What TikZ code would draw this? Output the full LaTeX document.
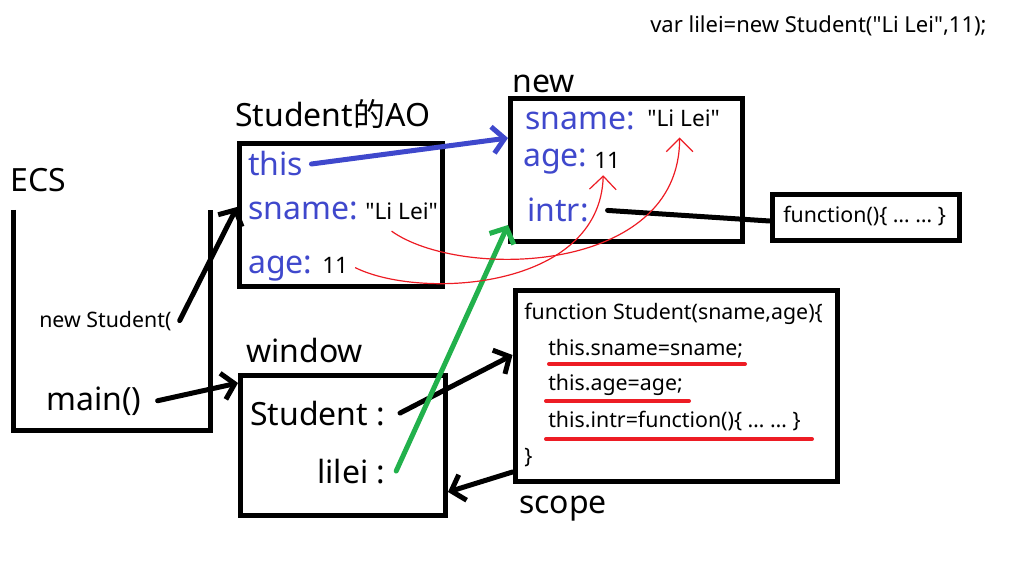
\documentclass[tikz,border=0pt]{standalone}
\usepackage{fontspec}
\setmainfont{Noto Sans}[Ligatures=TeXOff]
\newfontfamily\cjk{Noto Sans CJK SC}
\usetikzlibrary{arrows.meta,fit}
\definecolor{pblue}{HTML}{3F48CC}
\definecolor{pgreen}{HTML}{22B14C}
\definecolor{pred}{HTML}{ED1C24}
\begin{document}
\begin{tikzpicture}[x=0.75pt,y=-0.75pt,
 big/.style={font=\fontsize{24}{28}\selectfont, inner sep=0pt, anchor=base west},
 mid/.style={font=\fontsize{16}{19}\selectfont, inner sep=0pt, anchor=base west},
 val/.style={font=\fontsize{17}{20}\selectfont, inner sep=0pt, anchor=base west},
 key/.style={big, text=pblue},
 frame/.style={draw, line width=3.75pt, inner sep=0pt},
 conn/.style={line width=3.75pt, line cap=round, -{Straight Barb[length=9pt,width=20pt]}},
 redc/.style={draw=pred, line width=0.9pt, -{Straight Barb[length=10pt,width=20pt]}},
 uline/.style={draw=pred, line width=3pt, line cap=round}
]
\useasboundingbox (0,0) rectangle (1018,574);

% ECS
\node[big] (ecs) at (10,192) {ECS};
\draw[line width=3.75pt] (13,210) -- (13,430) -- (210,430) -- (210,210);
\node[mid] (newst) at (39,327) {new Student(};
\node[big] (mainf) at (46,410) {main()};

% Student AO
\node[big] (aolbl) at (235,127) {Student{\cjk 的}AO};
\node[frame, fit={(239.5,143.5) (442,286)}] (ao) {};
\node[key] (this) at (248,176) {this};
\node[key] (aosn) at (248,220) {sname:};
\node[val] (aoli) at (365,220) {"Li Lei"};
\node[key] (aoage) at (248,273) {age:};
\node[val] (ao11) at (322,273) {11};

% new object
\node[big] (newlbl) at (512,93) {new};
\node[frame, fit={(510.5,99) (742.5,242)}] (newo) {};
\node[key] (nsn) at (525,130) {sname:};
\node[val] (nli) at (647,127) {"Li Lei"};
\node[key] (nage) at (523,167) {age:};
\node[val] (n11) at (594,169) {11};
\node[key] (intr) at (527,222) {intr:};
\node[frame, fit={(772,194.5) (959,241)}] (fbox) {};
\node[mid] (ftext) at (783,223) {function()\{ … … \}};

% window
\node[big] (winlbl) at (246,362) {window};
\node[frame, fit={(240.5,375) (445.5,515.5)}] (win) {};
\node[big] (wst) at (250,425) {Student :};
\node[big] (wli) at (317,483) {lilei :};

% function
\node[frame, fit={(515,290.5) (837,481)}] (fn) {};
\node[mid] (f0) at (524,319) {function Student(sname,age)\{};
\node[mid] (f1) at (548,355) {this.sname=sname;};
\node[mid] (f2) at (548,390) {this.age=age;};
\node[mid] (f3) at (548,427) {this.intr=function()\{ … … \}};
\node[mid] (f4) at (524,463) {\}};
\node[big] (scopelbl) at (519,513) {scope};
\draw[uline] (549,364) -- (745,364);
\draw[uline] (546,401) -- (689,401);
\draw[uline] (546,439) -- (812,439);

\node[mid, font=\fontsize{16.5}{19}\selectfont] (top) at (650,33) {var lilei=new Student("Li Lei",11);};

% connectors
\draw[conn] ([xshift=6pt]newst.east) -- (ao.west |- 0,207);
\draw[conn] ([xshift=12pt]mainf.east) -- (win.west |- 0,383);
\draw[conn, draw=pblue] ([xshift=6pt]this.east) -- (newo.west |- 0,138);
\draw[conn] ([xshift=11pt]wst.east) -- (fn.west |- 0,355);
\draw[conn] (fn.west |- 0,472) -- (win.east |- 0,492);
\draw[conn, draw=pgreen] ([xshift=8pt]wli.east) -- (newo.west |- 0,225);
\draw[line width=3.75pt, line cap=round] ([xshift=14pt]intr.east) -- (fbox.west |- 0,221);

\draw[redc] ([xshift=-7.5pt,yshift=-8pt]aoli.south) .. controls (460,280) and (680,275) .. ([xshift=-3pt,yshift=-7.5pt]nli.south);
\draw[redc] ([xshift=5pt,yshift=-2pt]ao11.east) .. controls (420,300) and (600,290) .. ([xshift=-3pt,yshift=-4.5pt]n11.south);
\end{tikzpicture}
\end{document}
